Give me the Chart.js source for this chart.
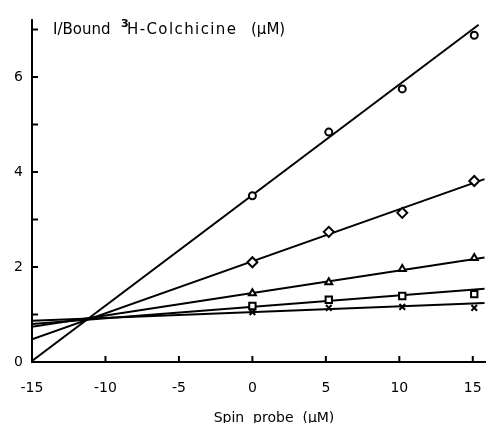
<!DOCTYPE html>
<html>
<head>
<meta charset="utf-8">
<script src="https://cdn.jsdelivr.net/npm/chart.js@4"></script>
<style>
  html, body { margin: 0; padding: 0; background: #fff; }
  #c { display: block; }
</style>
</head>
<body>
<canvas id="c" width="486" height="423"></canvas>
<script>
// spin probe concentrations (uM) where points were measured
const probe = [0, 5.2, 10.2, 15.1]

// 1/bound 3H-colchicine for each colchicine level
const circles = [3.5, 4.84, 5.75, 6.88]
const diamonds = [2.1, 2.74, 3.14, 3.81]
const triangles = [1.45, 1.68, 1.96, 2.19]
const squares = [1.18, 1.31, 1.39, 1.43]
const crosses = [1.05, 1.14, 1.16, 1.14]

// fitted lines: x ends and y at those ends
const fitX = [-15, 15.8]
const fitCircleX = [-15, 15.4]
const fitCircle = [0.02, 7.1]
const fitDiamond = [0.48, 3.85]
const fitTriangle = [0.74, 2.2]
const fitSquare = [0.8, 1.54]
const fitCross = [0.87, 1.24]

// axis ticks
const xTicks = [-15, -10, -5, 0, 5, 10, 15]
const xTickMarks = [-10, -5, 0, 5, 10, 15]
const yTicks = [0, 2, 4, 6]
const yTickMarks = [1, 2, 3, 4, 5, 6, 7]

const font = "'DejaVu Sans', sans-serif"

function pts(xs, ys){
    return xs.map((x, i) => ({x: x, y: ys[i]}))
}
function markers(ys, style, r){
    return {
        type: 'scatter',
        data: pts(probe, ys),
        pointStyle: style,
        pointRadius: r,
        pointBorderWidth: 2,
        pointBorderColor: '#000',
        pointBackgroundColor: '#fff',
        showLine: false
    }
}
function fitLine(xs, ys){
    return {
        type: 'line',
        data: pts(xs, ys),
        borderColor: '#000',
        borderWidth: 2,
        pointRadius: 0,
        fill: false,
        tension: 0
    }
}

// inward tick marks and axis titles
const decorations = {
    id: 'decorations',
    afterDraw(chart){
        const ctx = chart.ctx
        const xs = chart.scales.x, ys = chart.scales.y
        const area = chart.chartArea
        ctx.save()
        ctx.strokeStyle = '#000'
        ctx.lineWidth = 2
        for (const v of yTickMarks){
            const p = ys.getPixelForValue(v)
            ctx.beginPath(); ctx.moveTo(area.left, p); ctx.lineTo(area.left + 6, p); ctx.stroke()
        }
        for (const v of xTickMarks){
            const p = xs.getPixelForValue(v)
            ctx.beginPath(); ctx.moveTo(p, area.bottom); ctx.lineTo(p, area.bottom - 6); ctx.stroke()
        }
        ctx.fillStyle = '#000'
        ctx.textBaseline = 'alphabetic'
        ctx.textAlign = 'left'
        ctx.font = '15px ' + font
        ctx.fillText('I/Bound', 53, 34)
        ctx.font = 'bold 11px ' + font
        ctx.fillText('3', 121, 27)
        ctx.font = '15px ' + font
        ctx.letterSpacing = '1.4px'
        ctx.fillText('H-Colchicine', 127, 34)
        ctx.letterSpacing = '0px'
        ctx.fillText('(μM)', 251, 34)
        ctx.textAlign = 'center'
        ctx.font = '14px ' + font
        ctx.fillText('Spin  probe  (μM)', 274, 422)
        ctx.restore()
    }
}

new Chart(document.getElementById('c').getContext('2d'), {
    data: {
        datasets: [
            markers(circles, 'circle', 3.5),
            markers(diamonds, 'rectRot', 5),
            markers(triangles, 'triangle', 4),
            markers(squares, 'rect', 4.5),
            markers(crosses, 'crossRot', 4),
            fitLine(fitCircleX, fitCircle),
            fitLine(fitX, fitDiamond),
            fitLine(fitX, fitTriangle),
            fitLine(fitX, fitSquare),
            fitLine(fitX, fitCross)
        ]
    },
    options: {
        responsive: false,
        animation: false,
        devicePixelRatio: 1,
        layout: { autoPadding: false, padding: { top: 20, left: 0, right: 0, bottom: 0 } },
        plugins: { legend: { display: false }, tooltip: { enabled: false } },
        scales: {
            x: {
                type: 'linear',
                min: -15,
                max: 15.9,
                afterBuildTicks: (s) => { s.ticks = xTicks.map(v => ({value: v})) },
                afterFit: (s) => { s.height = 61; s.paddingLeft = 0; s.paddingRight = 0 },
                grid: { display: false, drawTicks: false },
                border: { display: true, color: '#000', width: 2 },
                ticks: { color: '#000', font: { family: font, size: 14 }, padding: 18, maxRotation: 0, autoSkip: false }
            },
            y: {
                type: 'linear',
                min: 0,
                max: 7.2,
                afterBuildTicks: (s) => { s.ticks = yTicks.map(v => ({value: v})) },
                afterFit: (s) => { s.width = 32; s.paddingTop = 0; s.paddingBottom = 0 },
                grid: { display: false, drawTicks: false },
                border: { display: true, color: '#000', width: 2 },
                ticks: { color: '#000', font: { family: font, size: 14 }, padding: 9 }
            }
        }
    },
    plugins: [decorations]
})
</script>
</body>
</html>
